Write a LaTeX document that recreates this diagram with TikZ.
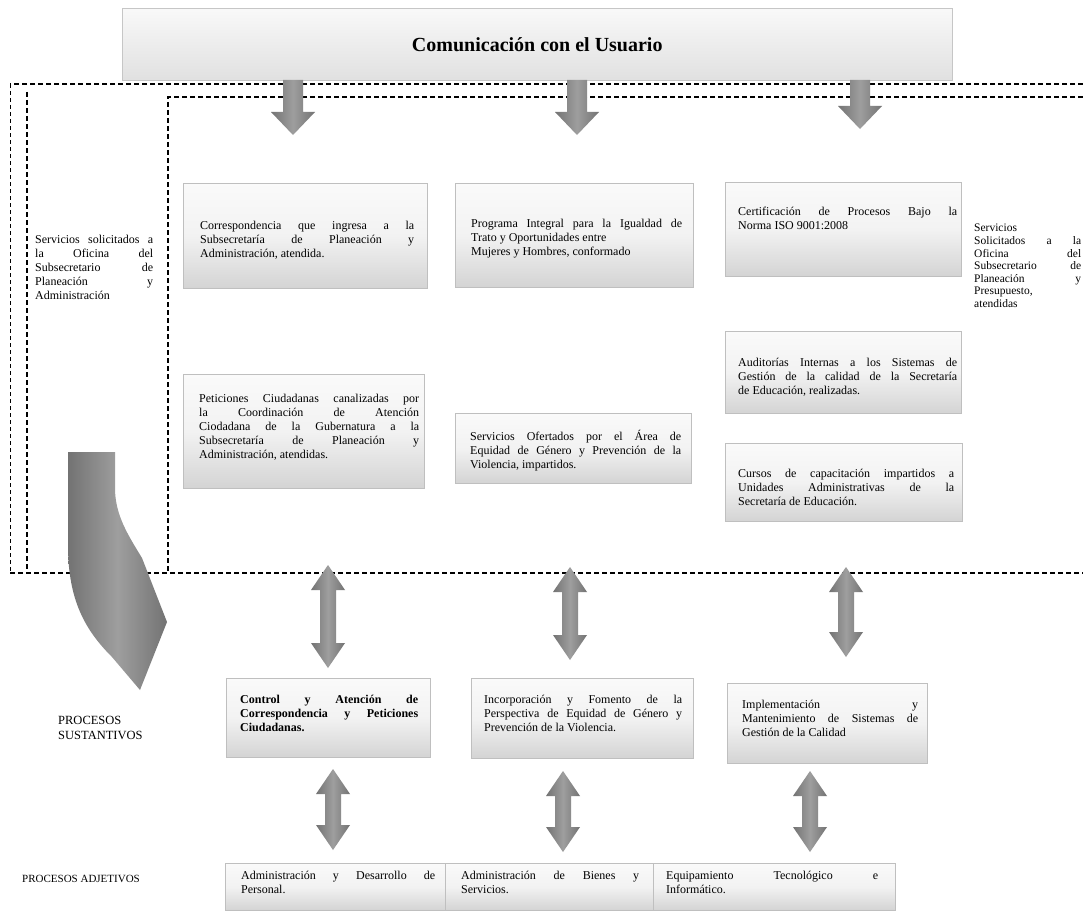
\documentclass[tikz,border=0pt]{standalone}
\usepackage{fontspec}
\setmainfont{Liberation Serif}
\newcommand{\jline}[2]{\makebox[#1][s]{#2}}
% vertical block arrow pointing down: centre x, top of shaft, tip
\newcommand{\downblock}[3]{%
  \path[blockarrow] ({#1-10},#2) -- ({#1+10},#2) -- ({#1+10},{#3-23}) -- ({#1+22},{#3-23})
    -- (#1,#3) -- ({#1-22},{#3-23}) -- ({#1-10},{#3-23}) -- cycle;}
% vertical two-headed block arrow: centre x, upper tip, lower tip
\newcommand{\twoway}[3]{%
  \path[blockarrow] (#1,#2) -- ({#1+17},{#2+25}) -- ({#1+8},{#2+25}) -- ({#1+8},{#3-25})
    -- ({#1+17},{#3-25}) -- (#1,#3) -- ({#1-17},{#3-25}) -- ({#1-8},{#3-25})
    -- ({#1-8},{#2+25}) -- ({#1-17},{#2+25}) -- cycle;}
\begin{document}
\begin{tikzpicture}[x=1pt,y=-1pt,
  banner/.style={draw=gray!45, line width=0.5pt, top color=gray!5, bottom color=gray!24,
    anchor=north west, inner sep=0pt},
  procbox/.style={draw=gray!50, line width=0.4pt, top color=gray!4, bottom color=gray!34,
    middle color=gray!10, anchor=north west, inner sep=0pt},
  boxtext/.style={anchor=north west, inner sep=0pt, align=left,
    font=\fontsize{12}{14}\selectfont},
  sidetext/.style={anchor=north west, inner sep=0pt, align=left,
    font=\fontsize{12}{14}\selectfont},
  blockarrow/.style={left color=black!55, right color=black!55, middle color=black!38},
  bigdash/.style={line width=1.2pt, dash pattern=on 5pt off 3pt},
  smalldash/.style={line width=0.7pt, dash pattern=on 4pt off 3pt}]
\useasboundingbox (0,0) rectangle (1083,915);
\fill[white] (0,0) rectangle (1083,915);

% header
\node[banner, minimum width=830, minimum height=72] (ban) at (122,8) {};
\node[font=\fontsize{20}{24}\selectfont\bfseries] (title) at (ban.center) {Comunicación con el Usuario};

% dashed frames
\draw[bigdash] (1083,84) -- (10,84);
\draw[smalldash] (10,84) -- (10,573);
\draw[bigdash] (27,92) -- (27,573);
\draw[bigdash] (1083,97) -- (168,97) -- (168,573);
\draw[bigdash] (10,573) -- (1083,573);

% arrows leaving the header
\downblock{293}{80}{135}
\downblock{577}{80}{135}
\downblock{860}{80}{129}

% side captions
\node[sidetext] (lefttxt) at (35,235) {\jline{118pt}{Servicios solicitados a}\\
  \jline{118pt}{la Oficina del}\\ \jline{118pt}{Subsecretario de}\\
  \jline{118pt}{Planeación y}\\ Administración};
\node[sidetext, font=\fontsize{11.5}{12.6}\selectfont] (righttxt) at (974,224) {Servicios\\
  \jline{107pt}{Solicitados a la}\\ \jline{107pt}{Oficina del}\\
  \jline{107pt}{Subsecretario de}\\ \jline{107pt}{Planeación y}\\
  Presupuesto,\\ atendidas};

% products
\node[procbox, minimum width=244, minimum height=105] (bA) at (183,183) {};
\node[boxtext] (tA) at (200,221) {\jline{214pt}{Correspondencia que ingresa a la}\\
  \jline{214pt}{Subsecretaría de Planeación y}\\ Administración, atendida.};
\node[procbox, minimum width=238, minimum height=104] (bB) at (455,183) {};
\node[boxtext] (tB) at (471,219) {\jline{211pt}{Programa Integral para la Igualdad de}\\
  Trato y Oportunidades entre\\ Mujeres y Hombres, conformado};
\node[procbox, minimum width=236, minimum height=94] (bC) at (725,182) {};
\node[boxtext] (tC) at (738,207) {\jline{219pt}{Certificación de Procesos Bajo la}\\
  Norma ISO 9001:2008};
\node[procbox, minimum width=236, minimum height=82] (bD) at (725,331) {};
\node[boxtext] (tD) at (738,358) {\jline{219pt}{Auditorías Internas a los Sistemas de}\\
  \jline{219pt}{Gestión de la calidad de la Secretaría}\\ de Educación, realizadas.};
\node[procbox, minimum width=241, minimum height=114] (bE) at (183,374) {};
\node[boxtext] (tE) at (199,394) {\jline{220pt}{Peticiones Ciudadanas canalizadas por}\\
  \jline{220pt}{la Coordinación de Atención}\\
  \jline{220pt}{Ciodadana de la Gubernatura a la}\\
  \jline{220pt}{Subsecretaría de Planeación y}\\ Administración, atendidas.};
\node[procbox, minimum width=236, minimum height=70] (bF) at (455,413) {};
\node[boxtext] (tF) at (470,430) {\jline{211pt}{Servicios Ofertados por el Área de}\\
  \jline{211pt}{Equidad de Género y Prevención de la}\\ Violencia, impartidos.};
\node[procbox, minimum width=237, minimum height=78] (bG) at (725,443) {};
\node[boxtext] (tG) at (738,469) {\jline{216pt}{Cursos de capacitación impartidos a}\\
  \jline{216pt}{Unidades Administrativas de la}\\ Secretaría de Educación.};

% curved arrow towards the core processes
\path[blockarrow] (68,452) -- (115,452) -- (115,488) .. controls (115,515) and (128,535) .. (142,558)
  -- (167,622) -- (140,690) -- (112,657) .. controls (85,630) and (68,600) .. (68,545) -- cycle;

% links to the core processes
\twoway{328}{565}{668}
\twoway{570}{567}{660}
\twoway{846}{567}{657}

\node[sidetext, font=\fontsize{12.5}{15}\selectfont] (sust) at (58,716) {PROCESOS\\ SUSTANTIVOS};

% core processes
\node[procbox, minimum width=204, minimum height=79] (bCtrl) at (226,678) {};
\node[boxtext, font=\fontsize{12}{14}\selectfont\bfseries] (tCtrl) at (240,695)
  {\jline{178pt}{Control y Atención de}\\ \jline{178pt}{Correspondencia y Peticiones}\\ Ciudadanas.};
\node[procbox, minimum width=222, minimum height=80] (bInc) at (471,678) {};
\node[boxtext] (tInc) at (484,695) {\jline{198pt}{Incorporación y Fomento de la}\\
  \jline{198pt}{Perspectiva de Equidad de Género y}\\ Prevención de la Violencia.};
\node[procbox, minimum width=200, minimum height=80] (bImp) at (727,683) {};
\node[boxtext] (tImp) at (742,700) {\jline{176pt}{Implementación y}\\
  \jline{176pt}{Mantenimiento de Sistemas de}\\ Gestión de la Calidad};

% links to the support processes
\twoway{333}{769}{850}
\twoway{563}{771}{852}
\twoway{810}{771}{852}

% support processes
\node[sidetext, font=\fontsize{11}{13}\selectfont] (adj) at (22,875) {PROCESOS ADJETIVOS};
\node[procbox, minimum width=220, minimum height=47] (b1) at (225,863) {};
\node[procbox, minimum width=208, minimum height=47] (b2) at (445,863) {};
\node[procbox, minimum width=242, minimum height=47] (b3) at (653,863) {};
\node[boxtext] (t1) at (241,871) {\jline{194pt}{Administración y Desarrollo de}\\ Personal.};
\node[boxtext] (t2) at (461,871) {\jline{178pt}{Administración de Bienes y}\\ Servicios.};
\node[boxtext] (t3) at (666,871) {\jline{212pt}{Equipamiento Tecnológico e}\\ Informático.};
\end{tikzpicture}
\end{document}
